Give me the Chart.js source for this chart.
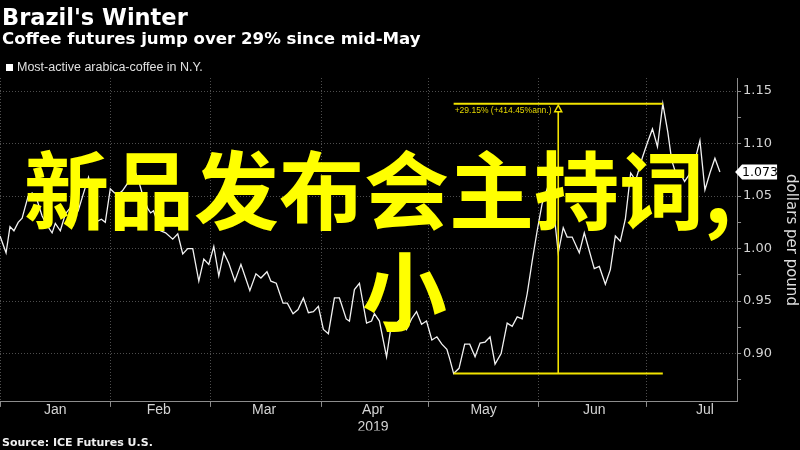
<!DOCTYPE html>
<html>
<head>
<meta charset="utf-8">
<script src="https://cdn.jsdelivr.net/npm/chart.js@4.4.0/dist/chart.umd.min.js"></script>
<style>
html, body { margin: 0; padding: 0; background: #000; }
#wrap { position: relative; width: 800px; height: 450px; background: #000; overflow: hidden; }
#wrap canvas { position: absolute; left: 0; top: 0; }
.t { position: absolute; white-space: nowrap; color: #fff; font-family: 'DejaVu Sans', sans-serif; line-height: 1; }
#title { left: 2px; top: 6px; font-size: 22.5px; font-weight: bold; }
#subtitle { left: 2px; top: 31px; font-size: 16.6px; font-weight: bold; }
#legend { left: 17px; top: 61px; font-size: 12.5px; color: #e0e0e0; font-family: 'Liberation Sans', sans-serif; }
#legbox { position: absolute; left: 6px; top: 64px; width: 7px; height: 7px; background: #fff; }
#source { left: 2px; top: 437px; font-size: 11px; font-weight: bold; color: #f0f0f0; }
.big { position: absolute; white-space: nowrap; color: #ffff00; font-family: 'Noto Sans CJK SC', sans-serif;
       font-weight: bold; font-size: 85px; line-height: 85px; }
#big1 { left: 24px; top: 143px; }
#big2 { left: 362px; top: 244px; }
</style>
</head>
<body>
<div id="wrap">
  <canvas id="grafico" width="800" height="450"></canvas>
  <div class="t" id="title">Brazil's Winter</div>
  <div class="t" id="subtitle">Coffee futures jump over 29% since mid-May</div>
  <div id="legbox"></div>
  <div class="t" id="legend">Most-active arabica-coffee in N.Y.</div>
  <div class="t" id="source">Source: ICE Futures U.S.</div>
  <div class="big" id="big1">新品发布会主持词,</div>
  <div class="big" id="big2">小</div>
</div>
<script>
// days since Jan 1 2019
const days = [0.0, 1.7, 2.8, 3.9, 5.1, 6.2, 7.0, 7.9, 9.0, 10.4, 11.8, 13.2, 14.6, 15.5, 16.9, 18.3, 19.7, 21.1, 21.9, 23.6,
    24.8, 26.2, 27.3, 28.4, 29.5, 30.9, 32.1, 33.2, 34.3, 35.7, 37.1, 38.0, 38.8, 39.9, 41.4, 42.2, 43.0, 45.0, 46.4, 48.4,
    49.8, 51.2, 52.6, 54.0, 55.7, 57.1, 58.5, 59.9, 61.3, 62.7, 64.1, 65.8, 67.5, 68.9, 70.0, 71.7, 73.1, 74.8, 75.9, 77.4,
    79.3, 80.5, 82.1, 83.5, 85.0, 86.4, 87.8, 89.2, 90.6, 92.0, 93.7, 95.1, 97.0, 97.9, 99.3, 100.7, 102.7, 104.1, 104.9, 106.3,
    108.3, 109.7, 111.1, 112.5, 113.9, 115.3, 116.7, 118.1, 119.5, 121.0, 122.4, 123.8, 125.2, 126.0, 127.1, 128.6, 130.2, 131.6, 133.1, 134.5,
    135.9, 137.3, 138.7, 140.4, 142.1, 143.5, 144.9, 146.3, 147.7, 149.1, 150.5, 151.9, 153.3, 154.7, 156.4, 157.8, 158.9, 160.3, 162.3, 163.7,
    165.1, 166.5, 167.9, 169.6, 171.0, 172.4, 173.8, 175.2, 176.7, 178.1, 180.0, 181.4, 182.8, 184.2, 185.7, 187.1, 188.2, 189.6, 190.7, 191.8,
    193.0, 194.7, 196.1, 197.5, 198.9, 200.3, 201.7];

// dollars per pound
const prices = [1.012, 0.996, 1.021, 1.017, 1.025, 1.029, 1.039, 1.050, 1.053, 1.046, 1.031, 1.022, 1.015, 1.024, 1.017, 1.033, 1.039, 1.034, 1.036, 1.055,
    1.068, 1.046, 1.026, 1.028, 1.025, 1.057, 1.053, 1.052, 1.055, 1.062, 1.065, 1.072, 1.065, 1.052, 1.038, 1.034, 1.036, 1.017, 1.015, 1.009,
    1.014, 0.995, 1.000, 1.000, 0.969, 0.990, 0.985, 1.002, 0.974, 0.996, 0.986, 0.969, 0.985, 0.971, 0.960, 0.976, 0.972, 0.978, 0.969, 0.967,
    0.948, 0.948, 0.938, 0.942, 0.953, 0.939, 0.940, 0.945, 0.923, 0.919, 0.953, 0.953, 0.933, 0.931, 0.961, 0.967, 0.929, 0.931, 0.938, 0.931,
    0.897, 0.929, 0.929, 0.934, 0.923, 0.933, 0.940, 0.928, 0.931, 0.913, 0.916, 0.909, 0.904, 0.895, 0.881, 0.886, 0.909, 0.909, 0.897, 0.910,
    0.911, 0.916, 0.890, 0.900, 0.929, 0.926, 0.935, 0.933, 0.957, 0.988, 1.017, 1.043, 1.057, 1.050, 0.996, 1.020, 1.011, 1.011, 0.996, 1.015,
    0.998, 0.981, 0.983, 0.966, 0.980, 1.012, 1.007, 1.028, 1.072, 1.065, 1.087, 1.101, 1.114, 1.097, 1.138, 1.111, 1.084, 1.069, 1.071, 1.064,
    1.070, 1.084, 1.103, 1.056, 1.072, 1.086, 1.073];

const monthStarts = [0, 31, 59, 90, 120, 151, 181];
const monthMids = [15.5, 44.5, 74, 104.5, 135.5, 166.5, 197.5];
const monthNames = ["Jan", "Feb", "Mar", "Apr", "May", "Jun", "Jul"];
const yearLabel = "2019";
const yTicks = [0.875, 0.9, 0.925, 0.95, 0.975, 1.0, 1.025, 1.05, 1.075, 1.1, 1.125, 1.15];
const annotText = "+29.15% (+414.45%ann.)";

const isStart = v => monthStarts.includes(v);
const isMajor = v => Math.round(v * 1000) % 50 === 0;

const amarelo = '#f2e300';

// low-to-high measure + last price tag
const medida = {
    id: 'medida',
    afterDatasetsDraw(chart) {
        const {ctx, scales: {x, y}} = chart;
        let lo = 0, hi = 0;
        prices.forEach((p, i) => {
            if (p < prices[lo]) lo = i;
            if (p > prices[hi]) hi = i;
        });
        const x1 = x.getPixelForValue(days[lo]);
        const x2 = x.getPixelForValue(days[hi]);
        const yLo = y.getPixelForValue(prices[lo]);
        const yHi = y.getPixelForValue(prices[hi]);
        const xm = (x1 + x2) / 2;
        ctx.save();
        ctx.strokeStyle = amarelo;
        ctx.lineWidth = 2;
        ctx.beginPath();
        ctx.moveTo(x1, yHi); ctx.lineTo(x2, yHi);
        ctx.moveTo(x1, yLo); ctx.lineTo(x2, yLo);
        ctx.stroke();
        ctx.lineWidth = 1.6;
        ctx.beginPath();
        ctx.moveTo(xm, yHi + 8); ctx.lineTo(xm, yLo);
        ctx.stroke();
        // small arrow head
        ctx.fillStyle = '#000';
        ctx.lineWidth = 1.5;
        ctx.beginPath();
        ctx.moveTo(xm, yHi + 1.5);
        ctx.lineTo(xm + 3.5, yHi + 8);
        ctx.lineTo(xm - 3.5, yHi + 8);
        ctx.closePath();
        ctx.fill();
        ctx.stroke();
        ctx.fillStyle = '#e6d800';
        ctx.font = '8.5px "Liberation Sans", sans-serif';
        ctx.textBaseline = 'middle';
        ctx.textAlign = 'left';
        ctx.fillText(annotText, x1 + 1, yHi + 6.5);
        ctx.restore();
    },
    afterDraw(chart) {
        const {ctx, scales: {y}, chartArea} = chart;
        const last = prices[prices.length - 1];
        const py = y.getPixelForValue(last);
        const bx = chartArea.right - 2;
        ctx.save();
        ctx.fillStyle = '#fff';
        ctx.beginPath();
        ctx.moveTo(bx, py);
        ctx.lineTo(bx + 7, py - 7.5);
        ctx.lineTo(bx + 42, py - 7.5);
        ctx.lineTo(bx + 42, py + 7.5);
        ctx.lineTo(bx + 7, py + 7.5);
        ctx.closePath();
        ctx.fill();
        ctx.fillStyle = '#000';
        ctx.font = '12.5px "DejaVu Sans", sans-serif';
        ctx.textBaseline = 'middle';
        ctx.textAlign = 'left';
        ctx.fillText(last.toFixed(3), bx + 7, py + 0.5);
        ctx.restore();
    }
};

const grafico = new Chart(document.getElementById("grafico"), {
    type: 'line',
    data: {
        datasets: [{
            label: "Most-active arabica-coffee in N.Y.",
            data: days.map((d, i) => ({x: d, y: prices[i]})),
            borderColor: '#f2f2f2',
            borderWidth: 1.3,
            pointRadius: 0,
            tension: 0
        }]
    },
    options: {
        responsive: false,
        animation: false,
        events: [],
        layout: {
            padding: {top: 78, left: 0, right: 0, bottom: 19.5}
        },
        plugins: {
            legend: {display: false},
            title: {display: false},
            tooltip: {enabled: false}
        },
        scales: {
            x: {
                type: 'linear',
                min: 0,
                max: 206.5,
                afterBuildTicks: s => {
                    s.ticks = monthStarts.concat(monthMids).sort((a, b) => a - b).map(v => ({value: v}));
                },
                ticks: {
                    autoSkip: false,
                    maxRotation: 0,
                    color: '#d4d4d4',
                    padding: -5,
                    font: {family: "'Liberation Sans', sans-serif", size: 14},
                    callback: v => {
                        const i = monthMids.indexOf(v);
                        if (i < 0) return '';
                        return monthNames[i] === 'Apr' ? [monthNames[i], yearLabel] : monthNames[i];
                    }
                },
                grid: {
                    color: c => (c.tick && isStart(c.tick.value)) ? '#4d4d4d' : 'rgba(0,0,0,0)',
                    tickColor: c => (c.tick && isStart(c.tick.value)) ? '#8c8c8c' : 'rgba(0,0,0,0)',
                    tickLength: 5,
                    lineWidth: 1
                },
                border: {color: '#8c8c8c', dash: [1, 2]}
            },
            y: {
                position: 'right',
                min: 0.854,
                max: 1.1625,
                afterBuildTicks: s => {
                    s.ticks = yTicks.map(v => ({value: v}));
                },
                ticks: {
                    color: '#d4d4d4',
                    padding: 2,
                    font: {family: "'DejaVu Sans', sans-serif", size: 13},
                    callback: v => isMajor(v) ? v.toFixed(2) : ''
                },
                grid: {
                    color: c => (c.tick && isMajor(c.tick.value)) ? '#4d4d4d' : 'rgba(0,0,0,0)',
                    tickColor: '#8c8c8c',
                    tickLength: 4,
                    lineWidth: 1
                },
                border: {color: '#8c8c8c', dash: [1, 2]},
                title: {
                    display: true,
                    text: 'dollars per pound',
                    color: '#dcdcdc',
                    font: {family: "'DejaVu Sans', sans-serif", size: 15},
                    padding: {top: 0, bottom: 8}
                }
            }
        }
    },
    plugins: [medida]
});
</script>
</body>
</html>
